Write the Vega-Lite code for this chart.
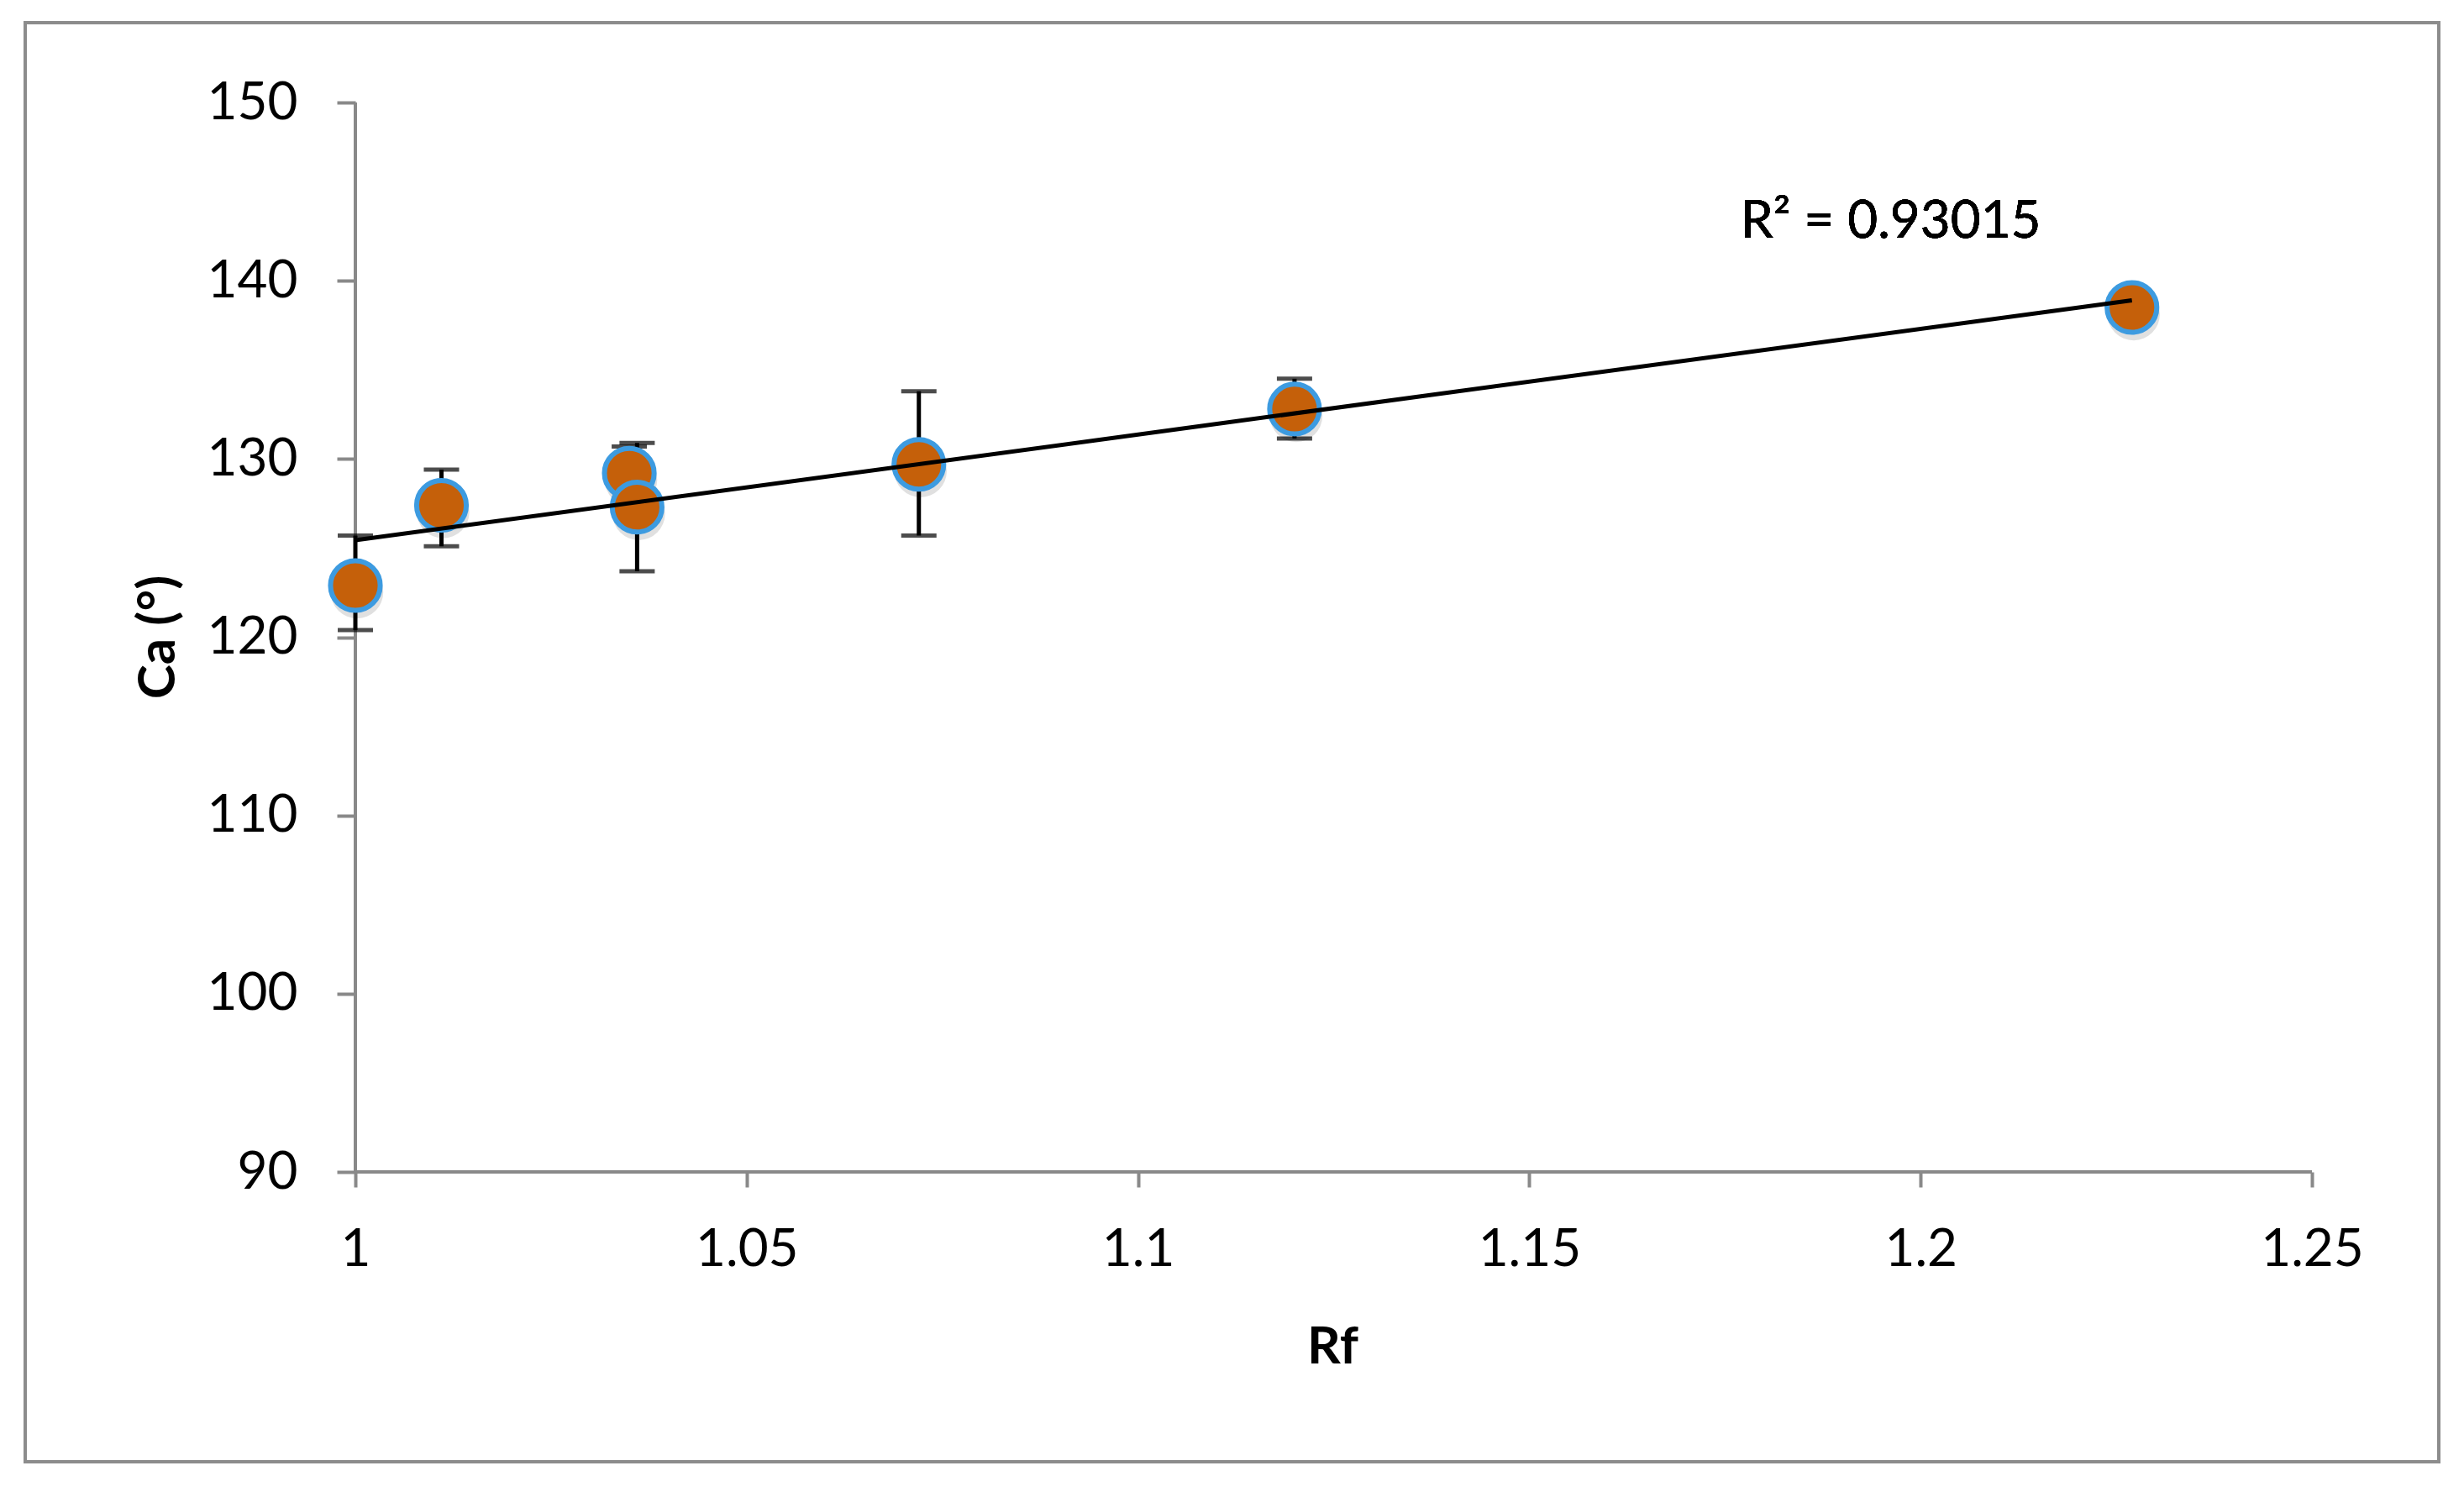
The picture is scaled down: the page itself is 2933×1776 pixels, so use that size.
{
  "$schema": "https://vega.github.io/schema/vega-lite/v6.json",
  "width": 2873,
  "height": 1713,
  "autosize": {"type": "none"},
  "padding": {"left": 30, "top": 27, "right": 30, "bottom": 36},
  "background": "white",
  "config": {
    "view": {"stroke": "#8c8c8c", "strokeWidth": 4},
    "font": "Lato",
    "axis": {
      "domain": false, "grid": false,
      "tickWidth": 4, "tickColor": "#898989",
      "labelFont": "Lato", "labelFontSize": 62, "labelColor": "black", "labelLimit": 1000,
      "labelFlush": false, "labelOverlap": false, "labelBound": false,
      "titleFont": "Lato", "titleFontSize": 62, "titleFontWeight": "bold", "titleColor": "black",
      "titleBaseline": "middle", "titleAlign": "center"
    },
    "axisX": {"offset": -345, "tickSize": 18, "labelPadding": 44, "titleX": 1556, "titleY": 208},
    "axisY": {"offset": -393, "tickSize": 22, "labelPadding": 47, "titleX": -235, "titleY": 731, "titleAngle": -90}
  },
  "data": {
    "values": [
      {"Rf": 1.000, "Ca": 122.9, "lo": 120.4, "hi": 125.7},
      {"Rf": 1.011, "Ca": 127.4, "lo": 125.1, "hi": 129.4},
      {"Rf": 1.035, "Ca": 129.2, "lo": 127.7, "hi": 130.7},
      {"Rf": 1.036, "Ca": 127.3, "lo": 123.7, "hi": 130.9},
      {"Rf": 1.072, "Ca": 129.7, "lo": 125.7, "hi": 133.8},
      {"Rf": 1.120, "Ca": 132.8, "lo": 131.15, "hi": 134.5},
      {"Rf": 1.227, "Ca": 138.5, "lo": 138.0, "hi": 139.0}
    ]
  },
  "layer": [
    {
      "mark": {"type": "rule", "color": "#898989", "strokeWidth": 4},
      "encoding": {
        "x": {"datum": 1, "type": "quantitative", "scale": {"domain": [0.957814, 1.266209], "nice": false, "zero": false}, "axis": {"title": "Rf", "values": [1, 1.05, 1.1, 1.15, 1.2, 1.25], "format": "~g"}},
        "y": {"datum": 90, "type": "quantitative", "scale": {"domain": [73.74, 154.478], "nice": false, "zero": false}, "axis": {"title": "Ca (°)", "values": [90, 100, 110, 120, 130, 140, 150], "format": "d"}},
        "y2": {"datum": 150}
      }
    },
    {
      "mark": {"type": "rule", "color": "#898989", "strokeWidth": 4},
      "encoding": {
        "x": {"datum": 1, "type": "quantitative", "scale": {"domain": [0.957814, 1.266209], "nice": false, "zero": false}, "axis": {"title": "Rf", "values": [1, 1.05, 1.1, 1.15, 1.2, 1.25], "format": "~g"}},
        "x2": {"datum": 1.25},
        "y": {"datum": 90, "type": "quantitative", "scale": {"domain": [73.74, 154.478], "nice": false, "zero": false}, "axis": {"title": "Ca (°)", "values": [90, 100, 110, 120, 130, 140, 150], "format": "d"}}
      }
    },
    {
      "mark": {"type": "rule", "color": "black", "strokeWidth": 5},
      "encoding": {
        "x": {"field": "Rf", "type": "quantitative", "scale": {"domain": [0.957814, 1.266209], "nice": false, "zero": false}, "axis": {"title": "Rf", "values": [1, 1.05, 1.1, 1.15, 1.2, 1.25], "format": "~g"}},
        "y": {"field": "lo", "type": "quantitative", "scale": {"domain": [73.74, 154.478], "nice": false, "zero": false}, "axis": {"title": "Ca (°)", "values": [90, 100, 110, 120, 130, 140, 150], "format": "d"}},
        "y2": {"field": "hi"}
      }
    },
    {
      "mark": {"type": "tick", "orient": "horizontal", "color": "black", "size": 42, "thickness": 5},
      "encoding": {
        "x": {"field": "Rf", "type": "quantitative", "scale": {"domain": [0.957814, 1.266209], "nice": false, "zero": false}, "axis": {"title": "Rf", "values": [1, 1.05, 1.1, 1.15, 1.2, 1.25], "format": "~g"}},
        "y": {"field": "lo", "type": "quantitative", "scale": {"domain": [73.74, 154.478], "nice": false, "zero": false}, "axis": {"title": "Ca (°)", "values": [90, 100, 110, 120, 130, 140, 150], "format": "d"}}
      }
    },
    {
      "mark": {"type": "tick", "orient": "horizontal", "color": "black", "size": 42, "thickness": 5},
      "encoding": {
        "x": {"field": "Rf", "type": "quantitative", "scale": {"domain": [0.957814, 1.266209], "nice": false, "zero": false}, "axis": {"title": "Rf", "values": [1, 1.05, 1.1, 1.15, 1.2, 1.25], "format": "~g"}},
        "y": {"field": "hi", "type": "quantitative", "scale": {"domain": [73.74, 154.478], "nice": false, "zero": false}, "axis": {"title": "Ca (°)", "values": [90, 100, 110, 120, 130, 140, 150], "format": "d"}}
      }
    },
    {
      "mark": {"type": "circle", "color": "#000000", "opacity": 0.12, "size": 3900, "yOffset": 8, "xOffset": 2},
      "encoding": {
        "x": {"field": "Rf", "type": "quantitative", "scale": {"domain": [0.957814, 1.266209], "nice": false, "zero": false}, "axis": {"title": "Rf", "values": [1, 1.05, 1.1, 1.15, 1.2, 1.25], "format": "~g"}},
        "y": {"field": "Ca", "type": "quantitative", "scale": {"domain": [73.74, 154.478], "nice": false, "zero": false}, "axis": {"title": "Ca (°)", "values": [90, 100, 110, 120, 130, 140, 150], "format": "d"}}
      }
    },
    {
      "mark": {"type": "point", "shape": "circle", "filled": false, "fill": "#c5600a", "fillOpacity": 1, "stroke": "#3d9be0", "strokeWidth": 6, "opacity": 1, "size": 3500},
      "encoding": {
        "x": {"field": "Rf", "type": "quantitative", "scale": {"domain": [0.957814, 1.266209], "nice": false, "zero": false}, "axis": {"title": "Rf", "values": [1, 1.05, 1.1, 1.15, 1.2, 1.25], "format": "~g"}},
        "y": {"field": "Ca", "type": "quantitative", "scale": {"domain": [73.74, 154.478], "nice": false, "zero": false}, "axis": {"title": "Ca (°)", "values": [90, 100, 110, 120, 130, 140, 150], "format": "d"}}
      }
    },
    {
      "transform": [{"regression": "Ca", "on": "Rf"}],
      "mark": {"type": "line", "color": "black", "strokeWidth": 5},
      "encoding": {
        "x": {"field": "Rf", "type": "quantitative", "scale": {"domain": [0.957814, 1.266209], "nice": false, "zero": false}, "axis": {"title": "Rf", "values": [1, 1.05, 1.1, 1.15, 1.2, 1.25], "format": "~g"}},
        "y": {"field": "Ca", "type": "quantitative", "scale": {"domain": [73.74, 154.478], "nice": false, "zero": false}, "axis": {"title": "Ca (°)", "values": [90, 100, 110, 120, 130, 140, 150], "format": "d"}}
      }
    },
    {
      "mark": {"type": "text", "text": "R² = 0.93015", "font": "Lato", "fontSize": 62, "color": "black", "align": "left", "baseline": "alphabetic"},
      "encoding": {
        "x": {"datum": 1.177, "type": "quantitative", "scale": {"domain": [0.957814, 1.266209], "nice": false, "zero": false}, "axis": {"title": "Rf", "values": [1, 1.05, 1.1, 1.15, 1.2, 1.25], "format": "~g"}},
        "y": {"datum": 142.41, "type": "quantitative", "scale": {"domain": [73.74, 154.478], "nice": false, "zero": false}, "axis": {"title": "Ca (°)", "values": [90, 100, 110, 120, 130, 140, 150], "format": "d"}}
      }
    }
  ]
}
